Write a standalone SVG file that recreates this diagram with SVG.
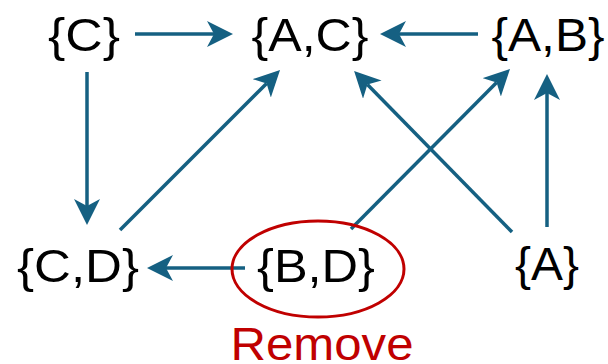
<svg xmlns="http://www.w3.org/2000/svg" width="608" height="364" viewBox="0 0 608 364">
  <style>
    .lbl { font-family: "Liberation Sans", Arial, sans-serif; font-size: 46px; fill: #000000; text-anchor: middle; }
    .rm { fill: #C00000; }
    .edge { stroke: #156082; stroke-width: 3.5; fill: none; marker-end: url(#head); }
  </style>
  <defs>
    <marker id="head" viewBox="0 0 26 26" markerWidth="26" markerHeight="26" markerUnits="userSpaceOnUse" refX="7" refY="13" orient="auto">
      <path d="M26,13 L0,0 L7,13 L0,26 Z" fill="#156082"/>
    </marker>
  </defs>

  <g id="connectors">
    <line class="edge" x1="135" y1="34" x2="214" y2="34"/>
    <line class="edge" x1="478" y1="34" x2="399" y2="34"/>
    <line class="edge" x1="87" y1="72" x2="87" y2="206"/>
    <line class="edge" x1="120" y1="230" x2="266.6" y2="83.4"/>
    <line class="edge" x1="512" y1="232" x2="367.4" y2="84.6"/>
    <line class="edge" x1="351" y1="229" x2="496.6" y2="82.4"/>
    <line class="edge" x1="547" y1="227" x2="547" y2="93"/>
    <line class="edge" x1="245" y1="268" x2="166" y2="268"/>
  </g>

  <g id="node-C">
    <text class="lbl" x="84" y="51" textLength="72" lengthAdjust="spacingAndGlyphs">{C}</text>
  </g>
  <g id="node-AC">
    <text class="lbl" x="310" y="51" textLength="117" lengthAdjust="spacingAndGlyphs">{A,C}</text>
  </g>
  <g id="node-AB">
    <text class="lbl" x="548" y="51" textLength="113" lengthAdjust="spacingAndGlyphs">{A,B}</text>
  </g>
  <g id="node-CD">
    <text class="lbl" x="78" y="282" textLength="122" lengthAdjust="spacingAndGlyphs">{C,D}</text>
  </g>
  <g id="node-BD">
    <ellipse cx="318" cy="269" rx="86" ry="48" fill="none" stroke="#C00000" stroke-width="3"/>
    <text class="lbl" x="316" y="282" textLength="118" lengthAdjust="spacingAndGlyphs">{B,D}</text>
    <text class="lbl rm" x="322" y="360" textLength="183" lengthAdjust="spacingAndGlyphs">Remove</text>
  </g>
  <g id="node-A">
    <text class="lbl" x="547" y="280" textLength="64" lengthAdjust="spacingAndGlyphs">{A}</text>
  </g>
</svg>
